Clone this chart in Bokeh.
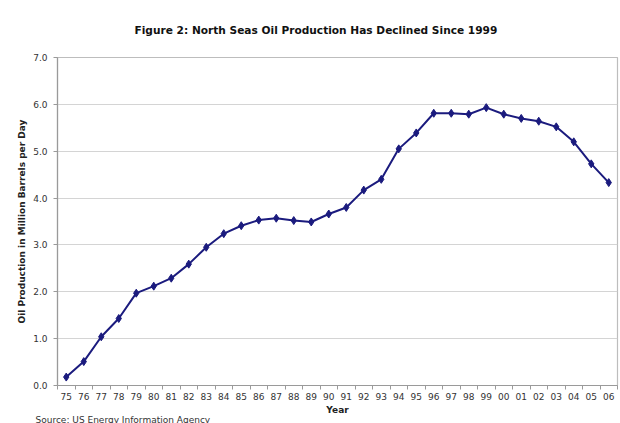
from bokeh.plotting import figure
from bokeh.models import FixedTicker, Range1d, Title, ColumnDataSource
from bokeh.embed import file_html
from bokeh.resources import INLINE

years = ["75","76","77","78","79","80","81","82","83","84","85","86","87","88","89","90",
         "91","92","93","94","95","96","97","98","99","00","01","02","03","04","05","06"]
production = [0.18, 0.51, 1.04, 1.43, 1.97, 2.12, 2.29, 2.59, 2.95, 3.24, 3.41, 3.53, 3.57, 3.52, 3.49, 3.66,
              3.80, 4.17, 4.40, 5.05, 5.39, 5.81, 5.81, 5.79, 5.93, 5.79, 5.70, 5.64, 5.52, 5.20, 4.73, 4.33]
y_ticks = [0, 1, 2, 3, 4, 5, 6, 7]

title_text = "Figure 2: North Seas Oil Production Has Declined Since 1999"
y_label = "Oil Production in Million Barrels per Day"
x_label = "Year"
source_text = "Source: US Energy Information Agency"

FONT = "DejaVu Sans"
NAVY = "#1b1b7e"

xs = list(range(len(years)))
src = ColumnDataSource(dict(x=xs, y=production))

p = figure(width=620, height=423, output_backend="svg", toolbar_location=None,
           x_range=Range1d(-0.5, len(years) - 0.5), y_range=Range1d(0, 7),
           min_border_left=57, min_border_right=3, min_border_top=57, min_border_bottom=0)
p.background_fill_color = "white"
p.border_fill_color = "white"
p.outline_line_color = "#bdbdbd"
p.outline_line_width = 1.2

p.line("x", "y", source=src, line_color=NAVY, line_width=2)
p.scatter("x", "y", source=src, marker="diamond", size=8, fill_color=NAVY, line_color=NAVY)

# x axis
p.xaxis.ticker = FixedTicker(ticks=xs, minor_ticks=[i - 0.5 for i in range(len(years) + 1)])
p.xaxis.major_label_overrides = {i: years[i] for i in xs}
p.xaxis.major_tick_line_color = None
p.xaxis.major_tick_out = 0
p.xaxis.major_tick_in = 0
p.xaxis.minor_tick_out = 4
p.xaxis.minor_tick_in = 0
p.xaxis.minor_tick_line_color = "#9a9a9a"
p.xaxis.axis_line_color = "#9a9a9a"
p.xaxis.axis_line_width = 1.2
p.xaxis.major_label_text_font = FONT
p.xaxis.major_label_text_font_size = "9px"
p.xaxis.major_label_text_color = "#333333"
p.xaxis.major_label_standoff = 3
p.xaxis.axis_label = x_label
p.xaxis.axis_label_text_font = FONT
p.xaxis.axis_label_text_font_size = "9px"
p.xaxis.axis_label_text_font_style = "bold"
p.xaxis.axis_label_standoff = 2
p.xaxis.axis_label_text_color = "#222222"

# y axis
p.yaxis.ticker = FixedTicker(ticks=y_ticks)
p.yaxis.major_label_overrides = {t: f"{t:.1f}" for t in y_ticks}
p.yaxis.major_tick_out = 4
p.yaxis.major_tick_in = 0
p.yaxis.minor_tick_line_color = None
p.yaxis.major_tick_line_color = "#9a9a9a"
p.yaxis.axis_line_color = "#9a9a9a"
p.yaxis.axis_line_width = 1.2
p.yaxis.major_label_text_font = FONT
p.yaxis.major_label_text_font_size = "9px"
p.yaxis.major_label_text_color = "#333333"
p.yaxis.major_label_standoff = 6
p.yaxis.axis_label = y_label
p.yaxis.axis_label_text_font = FONT
p.yaxis.axis_label_text_font_size = "9px"
p.yaxis.axis_label_text_font_style = "bold"
p.yaxis.axis_label_standoff = 3
p.yaxis.axis_label_text_color = "#222222"

p.xgrid.grid_line_color = None
p.ygrid.ticker = FixedTicker(ticks=y_ticks)
p.ygrid.grid_line_color = "#d4d4d4"
p.ygrid.grid_line_width = 1.2

p.add_layout(Title(text=title_text, text_font=FONT, text_font_size="10.6px", text_font_style="bold",
                   text_color="#111111", align="left", offset=77, standoff=42,
                   vertical_align="middle"), "above")
p.add_layout(Title(text=source_text, text_font=FONT, text_font_size="9px", text_font_style="normal",
                   text_color="#333333", align="left", offset=-22, standoff=-6,
                   vertical_align="top"), "below")

open("out.html", "w").write(file_html(p, INLINE))
